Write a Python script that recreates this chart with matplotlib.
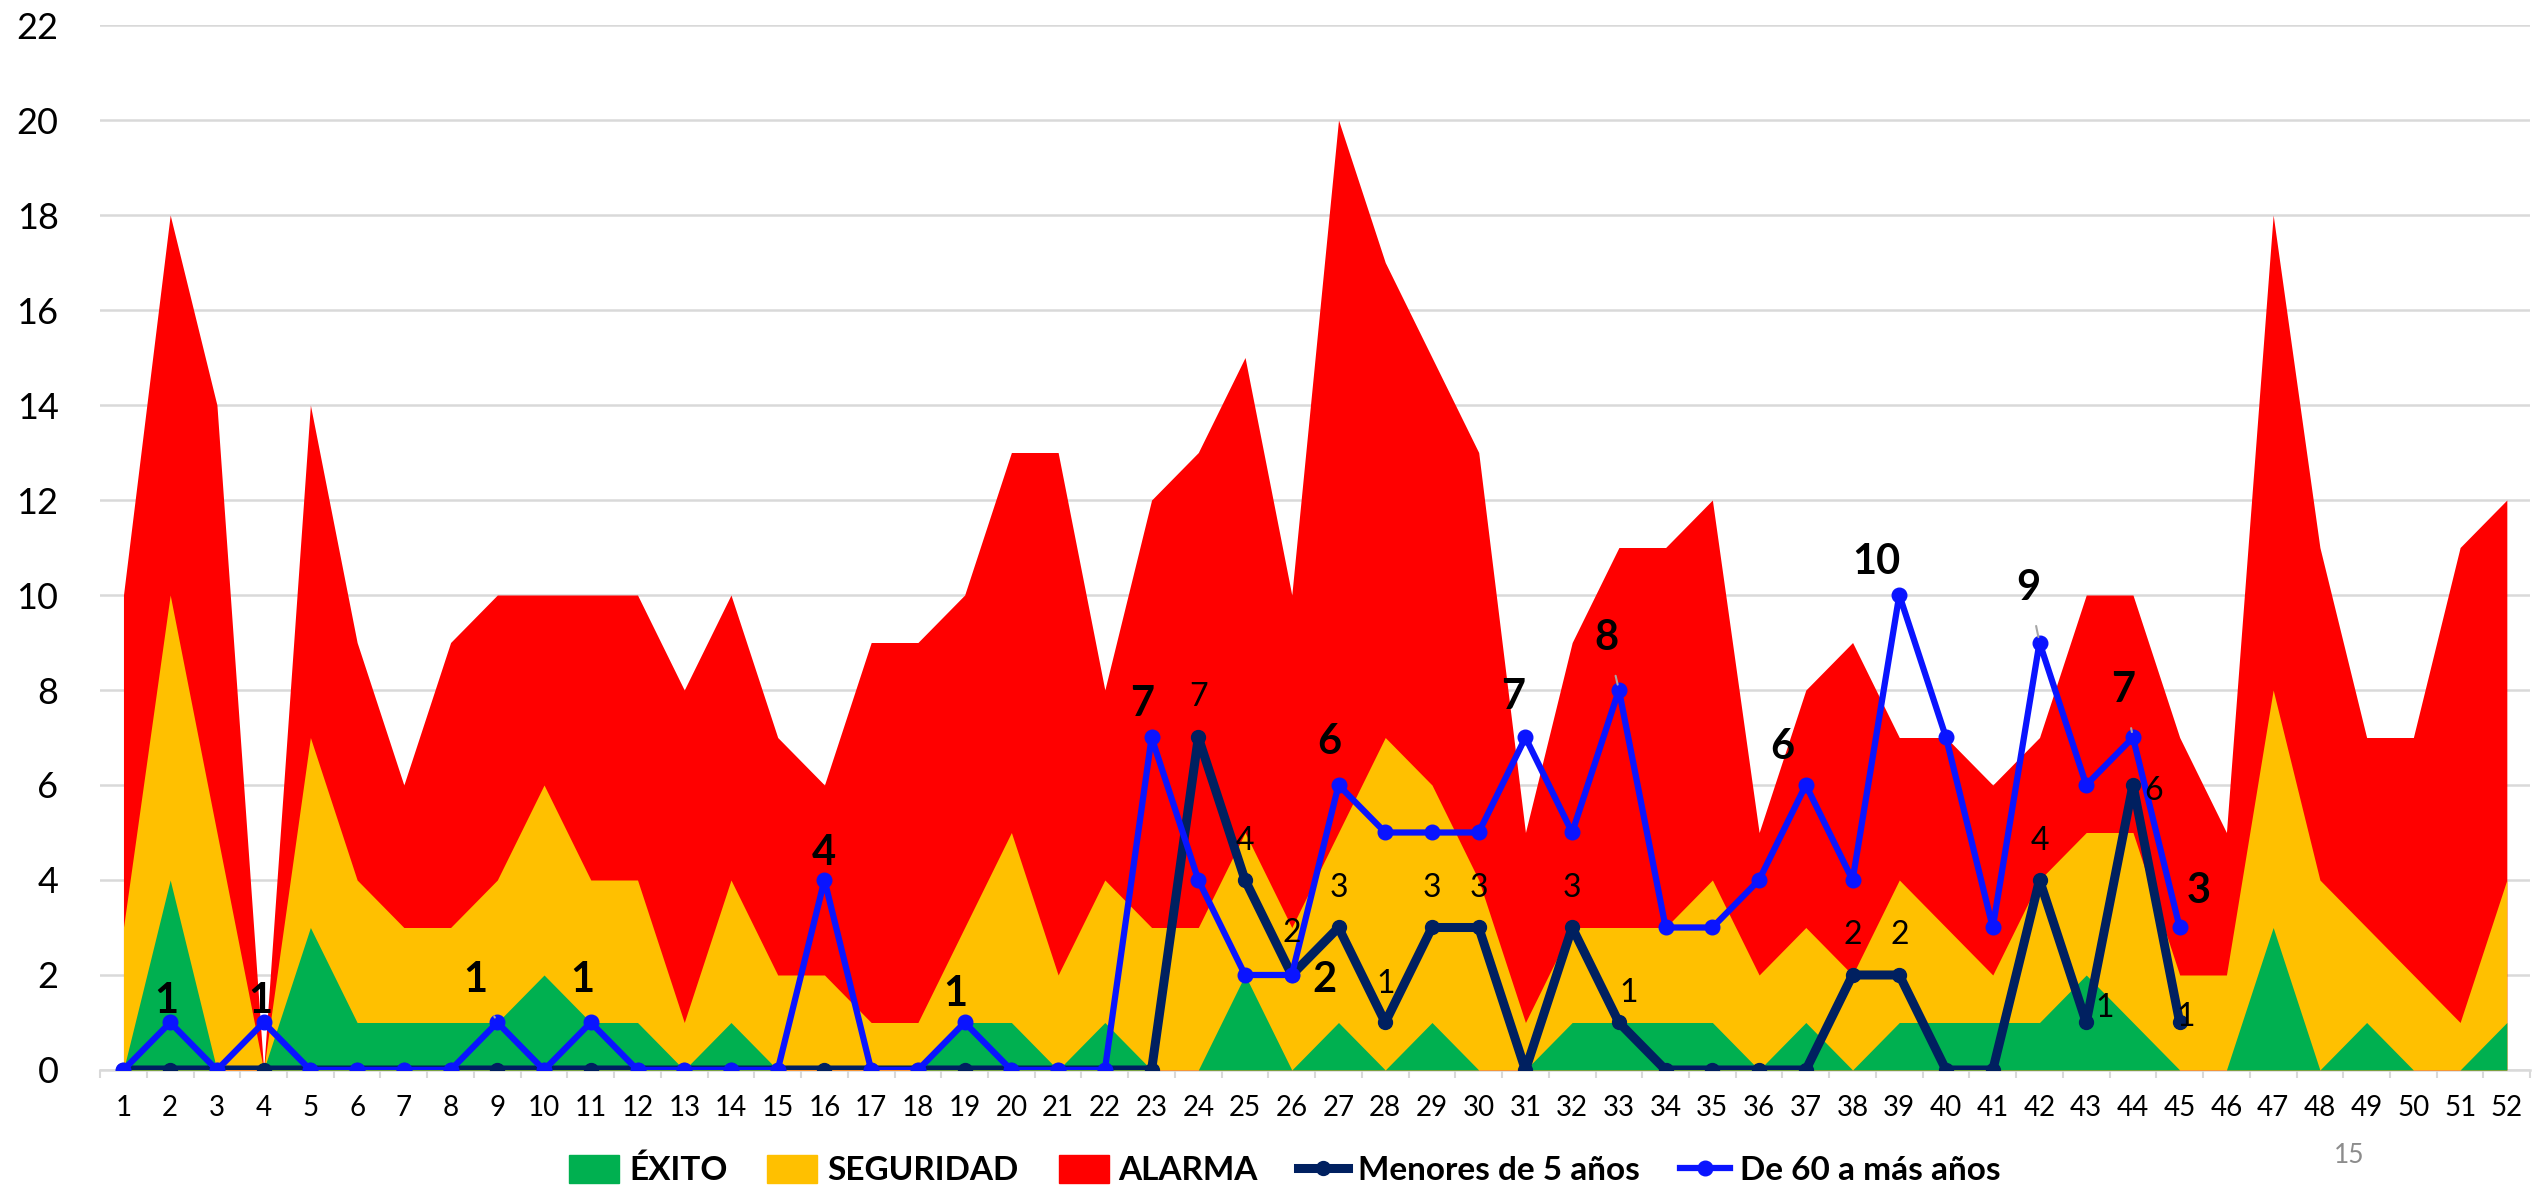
import matplotlib
matplotlib.use('Agg')
import matplotlib.pyplot as plt
from matplotlib.patches import Patch
from matplotlib.lines import Line2D
import numpy as np

plt.rcParams['font.family'] = ['Lato', 'DejaVu Sans']

# Datos: semanas epidemiológicas y canal endémico
semanas = list(range(1, 53))
alarma = [10, 18, 14, 0, 14, 9, 6, 9, 10, 10, 10, 10, 8, 10, 7, 6, 9, 9, 10, 13,
          13, 8, 12, 13, 15, 10, 20, 17, 15, 13, 5, 9, 11, 11, 12, 5, 8, 9, 7, 7,
          6, 7, 10, 10, 7, 5, 18, 11, 7, 7, 11, 12]
seguridad = [3, 10, 5, 0, 7, 4, 3, 3, 4, 6, 4, 4, 1, 4, 2, 2, 1, 1, 3, 5,
             2, 4, 3, 3, 5, 3, 5, 7, 6, 4, 1, 3, 3, 3, 4, 2, 3, 2, 4, 3,
             2, 4, 5, 5, 2, 2, 8, 4, 3, 2, 1, 4]
exito = [0, 4, 0, 0, 3, 1, 1, 1, 1, 2, 1, 1, 0, 1, 0, 0, 0, 0, 1, 1,
         0, 1, 0, 0, 2, 0, 1, 0, 1, 0, 0, 1, 1, 1, 1, 0, 1, 0, 1, 1,
         1, 1, 2, 1, 0, 0, 3, 0, 1, 0, 0, 1]

# Casos por grupo de edad (semanas 1-45)
semanas_casos = list(range(1, 46))
menores_5 = [0, 0, 0, 0, 0, 0, 0, 0, 0, 0, 0, 0, 0, 0, 0, 0, 0, 0, 0, 0,
             0, 0, 0, 7, 4, 2, 3, 1, 3, 3, 0, 3, 1, 0, 0, 0, 0, 2, 2, 0,
             0, 4, 1, 6, 1]
mayores_60 = [0, 1, 0, 1, 0, 0, 0, 0, 1, 0, 1, 0, 0, 0, 0, 4, 0, 0, 1, 0,
              0, 0, 7, 4, 2, 2, 6, 5, 5, 5, 7, 5, 8, 3, 3, 4, 6, 4, 10, 7,
              3, 9, 6, 7, 3]

# Semanas con etiqueta visible
etiq_mayores = [2, 4, 9, 11, 16, 19, 23, 26, 27, 31, 33, 37, 39, 42, 44, 45]
etiq_menores = [24, 25, 26, 27, 28, 29, 30, 32, 33, 38, 39, 42, 43, 44, 45]

# Desplazamientos de las etiquetas (dx, dy) en unidades de datos
off_mayores = {2: (-0.09, 0.45), 4: (-0.07, 0.45), 9: (-0.46, 0.9), 11: (-0.17, 0.9),
               16: (-0.02, 0.56), 19: (-0.2, 0.6), 23: (-0.2, 0.7), 26: (0.7, -0.1),
               27: (-0.2, 0.9), 31: (-0.26, 0.86), 33: (-0.26, 1.1), 37: (-0.5, 0.8),
               39: (-0.5, 0.7), 42: (-0.24, 1.15), 44: (-0.2, 1.0), 45: (0.4, 0.76)}
guia_mayores = [9, 33, 42, 44]
off_menores = {24: (0, 0.86), 25: (0, 0.83), 26: (0, 0.88), 27: (0, 0.83), 28: (0, 0.8),
               29: (0, 0.83), 30: (0, 0.83), 32: (0, 0.83), 33: (0.2, 0.63),
               38: (0, 0.85), 39: (0, 0.85), 42: (0, 0.83), 43: (0.4, 0.3),
               44: (0.45, -0.13), 45: (0.13, 0.12)}

c_verde, c_amarillo, c_rojo = '#00b050', '#ffc000', '#ff0000'
c_navy, c_azul = '#002060', '#0a14ff'

fig = plt.figure(figsize=(25.34, 11.91), dpi=100)
ax = fig.add_axes([0.0395, 0.1016, 0.959, 0.8774])

ax.fill_between(semanas, 0, alarma, color=c_rojo, lw=0, zorder=2)
ax.fill_between(semanas, 0, seguridad, color=c_amarillo, lw=0, zorder=3)
ax.fill_between(semanas, 0, exito, color=c_verde, lw=0, zorder=4)

ax.plot(semanas_casos, menores_5, color=c_navy, lw=6.5, marker='o', ms=10,
        solid_joinstyle='round', zorder=5)
ax.plot(semanas_casos, mayores_60, color=c_azul, lw=4.5, marker='o', ms=10.5,
        zorder=6)

for s in etiq_menores:
    v = menores_5[s - 1]
    dx, dy = off_menores[s]
    ax.text(s + dx, v + dy, str(v), ha='center', va='center', fontsize=23,
            color='black', zorder=7)

for s in etiq_mayores:
    v = mayores_60[s - 1]
    dx, dy = off_mayores[s]
    if s in guia_mayores:
        ax.annotate(str(v), xy=(s, v), xytext=(s + dx, v + dy), ha='center',
                    va='center', fontsize=30, fontweight='bold', zorder=8,
                    arrowprops=dict(arrowstyle='-', color='#a6a6a6', lw=1.5,
                                    shrinkA=12, shrinkB=4))
    else:
        ax.text(s + dx, v + dy, str(v), ha='center', va='center', fontsize=30,
                fontweight='bold', zorder=8)

ax.set_xlim(0.5, 52.5)
ax.set_ylim(0, 22)
ax.set_yticks(range(0, 23, 2))
ax.set_xticks(semanas)
ax.set_xticks(np.arange(0.5, 53, 1), minor=True)
ax.tick_params(axis='y', length=0, labelsize=26, pad=30)
ax.tick_params(axis='x', which='major', length=0, labelsize=20, pad=18)
ax.tick_params(axis='x', which='minor', length=6, width=1.5, color='#d9d9d9')
ax.grid(axis='y', color='#d9d9d9', lw=1.8, zorder=0)
ax.set_axisbelow(True)
for lado in ['top', 'right', 'left']:
    ax.spines[lado].set_visible(False)
ax.spines['bottom'].set_color('#d9d9d9')
ax.spines['bottom'].set_linewidth(1.8)
ax.spines['bottom'].set_zorder(1)

handles = [Patch(color=c_verde), Patch(color=c_amarillo), Patch(color=c_rojo),
           Line2D([], [], color=c_navy, lw=6.5, marker='o', ms=10),
           Line2D([], [], color=c_azul, lw=4.5, marker='o', ms=10.5)]
labels = ['ÉXITO', 'SEGURIDAD', 'ALARMA', 'Menores de 5 años', 'De 60 a más años']
fig.legend(handles, labels, loc='center', bbox_to_anchor=(0.507, 0.0176), ncol=5,
           frameon=False, prop=dict(size=24, weight='bold'), handlelength=1.5,
           handleheight=0.9, handletextpad=0.3, columnspacing=1.2,
           borderaxespad=0, borderpad=0)

fig.text(0.927, 0.030, '15', fontsize=19, color='#8c8c8c', ha='center', va='center')

fig.savefig('out.png', dpi=100)
